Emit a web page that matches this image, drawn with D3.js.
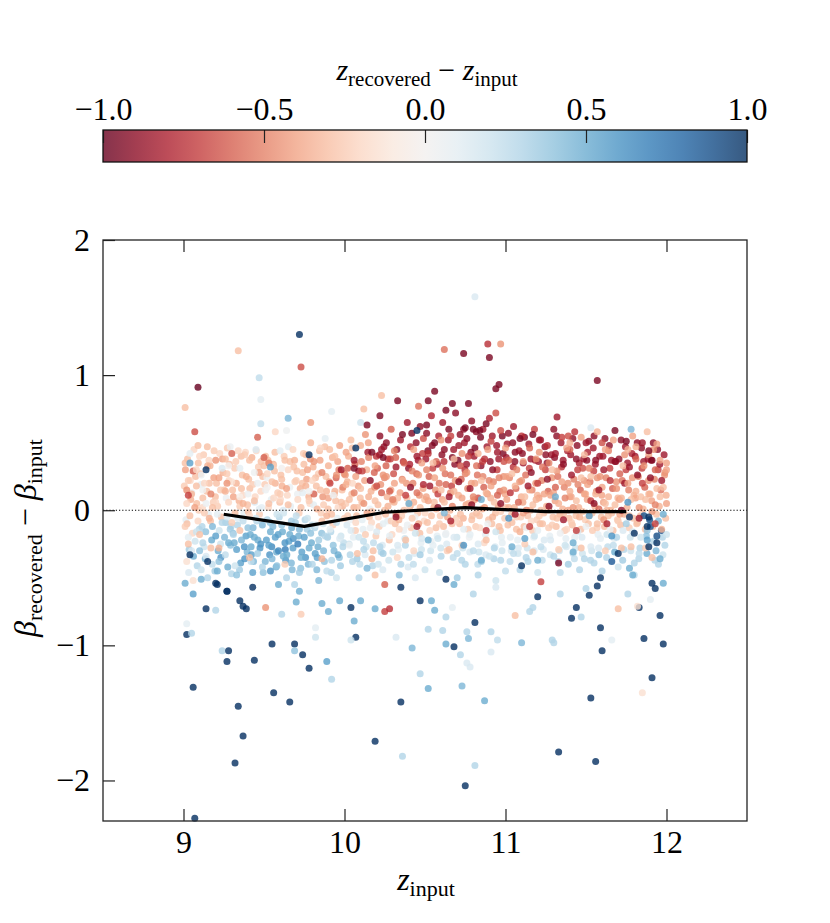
<!DOCTYPE html>
<html>
<head>
<meta charset="utf-8">
<script src="https://cdn.jsdelivr.net/npm/d3@7"></script>
<style>
  body { margin: 0; background: #fff; }
  text { font-family: "Liberation Serif", "DejaVu Serif", serif; }
</style>
</head>
<body>
<div id="chart"></div>
<script>
// ---- data: [z_input, beta_rec - beta_in, z_rec - z_in] ----
const coreLeft = [
  [9.01,0.35,-.3],[9.03,0.22,-.25],[9.05,0.12,-.35],[9.02,0.05,-.2],[9.04,-0.04,-.3],[9.01,-0.12,-.25],[9.03,-0.2,.1],[9.05,-0.3,.15],[9.02,-0.38,-.15],[9.06,0.29,-.6],
  [9.08,0.18,-.3],[9.07,0.02,-.4],[9.09,-0.08,-.2],[9.08,-0.16,.2],[9.1,0.4,-.2],[9.11,0.26,.05],[9.12,0.09,-.3],[9.13,-0.02,-.25],[9.12,-0.24,.3],[9.14,-0.34,.15],
  [9.11,-0.44,.2],[9.15,0.33,-.35],[9.16,0.2,-.3],[9.17,0.12,-.5],[9.16,-0.06,-.35],[9.18,-0.12,.45],[9.17,-0.28,-.3],[9.19,0.44,-.25],[9.2,0.06,-.2],[9.21,-0.03,.1],
  [9.2,-0.19,.55],[9.22,0.24,-.4],[9.23,0.15,-.25],[9.22,-0.38,.4],[9.24,0.31,.15],[9.24,-0.09,.3],[9.06,-0.52,-.15],[9.15,-0.5,.3],[9.09,0.48,-.3],[9.2,0.37,-.45],
  [9.04,0.42,.1],[9.13,0.2,-.2],[9.18,0.02,-.3],[9.03,-0.25,-.3],[9.23,-0.25,.2],[9.1,-0.3,.4],[9.02,0.15,-.45],[9.14,0.05,.05],[9.21,-0.45,.5],[9.08,0.3,-.2],
  [9.26,0.38,-.3],[9.27,0.27,-.25],[9.26,0.14,-.35],[9.28,0.06,-.2],[9.27,-0.05,.15],[9.29,-0.14,.35],[9.28,-0.24,.5],[9.26,-0.33,.25],[9.3,0.21,-.15],[9.31,0.1,-.4],
  [9.32,-0.02,-.3],[9.31,-0.18,.3],[9.33,-0.29,.55],[9.32,-0.41,.2],[9.34,0.44,-.2],[9.35,0.31,.1],[9.36,0.16,-.3],[9.35,0.03,-.25],[9.37,-0.08,.25],[9.36,-0.22,.45],
  [9.38,-0.36,.6],[9.39,0.25,-.35],[9.4,0.12,.05],[9.41,-0.04,-.2],[9.4,-0.13,.4],[9.42,-0.27,.5],[9.41,0.37,-.3],[9.43,0.19,-.25],[9.44,0.07,-.3],[9.45,-0.06,.2],
  [9.44,-0.2,.5],[9.46,-0.32,.35],[9.47,0.28,-.4],[9.48,0.14,-.2],[9.47,0.01,.1],[9.49,-0.11,.45],[9.48,-0.25,.6],[9.49,-0.42,.3],[9.29,0.47,.05],[9.38,0.41,-.25],
  [9.45,0.45,.15],[9.33,-0.48,.4],[9.43,-0.46,.55],[9.27,0.2,-.45],[9.37,0.05,-.35],[9.46,0.2,.05],[9.3,-0.09,-.25],[9.42,-0.38,.25],[9.5,0.33,-.3],[9.35,-0.15,-.3],
  [9.51,0.4,-.3],[9.52,0.27,-.2],[9.51,0.15,.05],[9.53,0.05,-.3],[9.52,-0.07,.3],[9.54,-0.16,.5],[9.53,-0.26,.55],[9.55,-0.36,.45],[9.54,-0.45,.6],[9.56,0.33,-.25],
  [9.57,0.2,-.35],[9.56,0.09,-.2],[9.58,-0.03,.2],[9.57,-0.2,.55],[9.59,-0.3,.65],[9.58,-0.41,.4],[9.6,0.44,.1],[9.61,0.23,-.3],[9.6,0.12,-.25],[9.62,0.0,.15],
  [9.61,-0.11,.4],[9.63,-0.24,.6],[9.62,-0.34,.5],[9.64,-0.5,.3],[9.65,0.3,-.2],[9.66,0.17,.05],[9.65,0.04,-.3],[9.67,-0.08,.35],[9.66,-0.18,.5],[9.68,-0.28,.55],
  [9.67,-0.39,.45],[9.69,0.37,-.35],[9.7,0.22,-.25],[9.71,0.08,-.2],[9.7,-0.04,.25],[9.72,-0.14,.45],[9.71,-0.25,.7],[9.73,-0.35,.5],[9.72,-0.46,.35],[9.74,0.28,-.3],
  [9.74,0.13,.1],[9.75,-0.2,.55],[9.53,0.35,-.5],[9.63,0.37,-.3],[9.68,0.45,-.2],[9.59,-0.55,.5],[9.69,-0.55,.3],[9.55,0.21,-.3],[9.64,0.16,-.4],[9.73,0.02,-.3],
  [9.76,0.41,-.3],[9.77,0.3,-.4],[9.76,0.18,-.35],[9.78,0.07,-.25],[9.77,-0.06,.2],[9.79,-0.17,.4],[9.78,-0.28,.5],[9.8,-0.4,.3],[9.81,0.36,-.45],[9.82,0.24,-.3],
  [9.81,0.12,-.6],[9.83,0.01,-.35],[9.82,-0.11,.15],[9.84,-0.22,.35],[9.83,-0.35,.55],[9.85,0.46,-.2],[9.86,0.28,-.5],[9.85,0.15,-.3],[9.87,0.04,-.25],[9.86,-0.08,-.3],
  [9.88,-0.19,.3],[9.87,-0.3,.45],[9.89,-0.45,.25],[9.9,0.33,-.35],[9.91,0.2,-.7],[9.9,0.09,-.4],[9.92,-0.03,-.3],[9.91,-0.14,.1],[9.93,-0.26,.4],[9.92,-0.37,.3],
  [9.94,0.4,-.3],[9.95,0.26,-.45],[9.94,0.14,-.35],[9.96,0.02,-.2],[9.95,-0.09,.25],[9.97,-0.21,.15],[9.96,-0.33,.5],[9.98,0.3,-.85],[9.99,0.17,-.5],[9.98,0.06,-.3],
  [10.0,-0.06,-.25],[9.99,-0.27,.3],[9.79,0.5,-.35],[9.88,0.53,.1],[9.97,0.48,-.4],[9.84,-0.52,.45],[9.95,-0.5,.2],[9.8,0.22,-.2],[9.93,0.11,.05],[9.89,-0.04,-.35]
];

const coreMid = [
  [10.01,0.43,-.4],[10.02,0.31,-.6],[10.01,0.19,-.35],[10.03,0.08,-.3],[10.02,-0.04,-.25],[10.04,-0.15,.15],[10.03,-0.26,.05],[10.05,-0.38,.3],[10.06,0.37,-.85],[10.07,0.25,-.4],
  [10.06,0.13,-.5],[10.08,0.02,-.3],[10.07,-0.09,-.2],[10.09,-0.2,.2],[10.08,-0.32,-.3],[10.1,0.48,-.35],[10.11,0.29,-.7],[10.1,0.16,-.3],[10.12,0.05,-.45],[10.11,-0.07,.1],
  [10.13,-0.18,-.25],[10.12,-0.29,.3],[10.14,-0.43,.45],[10.15,0.39,-.5],[10.16,0.22,-.9],[10.15,0.1,-.35],[10.17,-0.01,-.3],[10.16,-0.13,.05],[10.18,-0.24,.25],[10.17,-0.36,-.35],
  [10.19,0.33,-.4],[10.2,0.18,-.65],[10.19,0.07,-.3],[10.21,-0.05,-.2],[10.2,-0.16,.15],[10.22,-0.27,.3],[10.21,-0.4,.2],[10.23,0.45,-.85],[10.24,0.26,-.45],[10.23,0.13,-.6],
  [10.25,0.0,-.3],[10.24,-0.1,.1],[10.04,0.52,-.3],[10.13,0.56,-.45],[10.22,0.55,-.9],[10.09,-0.5,.3],[10.19,-0.48,-.3],[10.05,0.2,-.2],[10.14,-0.02,-.4],[10.24,-0.32,.35],
  [10.26,0.5,-.9],[10.27,0.38,-.7],[10.26,0.25,-.45],[10.28,0.14,-.6],[10.27,0.03,-.35],[10.29,-0.08,-.25],[10.28,-0.19,.1],[10.3,-0.31,.2],[10.31,0.44,-.5],[10.32,0.32,-.85],
  [10.31,0.2,-.4],[10.33,0.09,-.3],[10.32,-0.03,-.45],[10.34,-0.14,-.2],[10.33,-0.26,.15],[10.35,-0.4,.3],[10.36,0.56,-.95],[10.37,0.35,-.6],[10.36,0.22,-.35],[10.38,0.11,-.7],
  [10.37,0.0,-.3],[10.39,-0.11,.05],[10.38,-0.22,-.3],[10.4,-0.35,.25],[10.41,0.47,-.75],[10.42,0.29,-.5],[10.41,0.17,-.9],[10.43,0.06,-.35],[10.42,-0.06,-.25],[10.44,-0.17,.2],
  [10.43,-0.3,-.2],[10.45,0.4,-.85],[10.46,0.26,-.45],[10.45,0.13,-.55],[10.47,0.02,-.3],[10.46,-0.1,-.4],[10.48,-0.21,.15],[10.47,-0.33,.35],[10.49,0.53,-.65],[10.49,0.19,-.8],
  [10.5,-0.02,-.2],[10.5,-0.44,.2],[10.29,0.6,-.6],[10.39,0.65,-.85],[10.47,0.62,-.9],[10.34,-0.48,.4],[10.44,-0.5,.15],[10.3,0.08,-.5],[10.4,0.04,-.2],[10.48,0.35,-.4],
  [10.51,0.57,-.9],[10.52,0.42,-.75],[10.51,0.3,-.5],[10.53,0.18,-.85],[10.52,0.07,-.4],[10.54,-0.04,-.3],[10.53,-0.15,-.2],[10.55,-0.26,.1],[10.56,0.5,-.95],[10.57,0.36,-.6],
  [10.56,0.24,-.4],[10.58,0.12,-.7],[10.57,0.01,-.35],[10.59,-0.1,-.25],[10.58,-0.21,.2],[10.6,-0.34,.3],[10.61,0.65,-.85],[10.62,0.45,-.9],[10.61,0.31,-.45],[10.63,0.19,-.6],
  [10.62,0.06,-.3],[10.64,-0.05,-.4],[10.63,-0.17,.05],[10.65,-0.29,-.3],[10.66,0.55,-.7],[10.67,0.39,-.95],[10.66,0.26,-.55],[10.68,0.14,-.35],[10.67,0.03,-.5],[10.69,-0.08,-.2],
  [10.68,-0.2,.15],[10.7,-0.32,.25],[10.71,0.48,-.85],[10.72,0.33,-.65],[10.71,0.21,-.9],[10.73,0.09,-.4],[10.72,-0.03,-.3],[10.74,-0.14,.1],[10.73,-0.26,-.25],[10.74,0.6,-.9],
  [10.75,0.27,-.5],[10.75,-0.4,.3],[10.54,0.7,-.8],[10.69,0.72,-.9],[10.59,-0.46,.2],[10.7,-0.5,.35],[10.55,0.35,-.3],[10.65,0.1,-.85],[10.6,0.15,-.3],[10.73,0.42,-.45],
  [10.76,0.53,-.9],[10.77,0.4,-.7],[10.76,0.28,-.45],[10.78,0.16,-.85],[10.77,0.05,-.35],[10.79,-0.07,-.3],[10.78,-0.18,.1],[10.8,-0.3,.25],[10.81,0.46,-.95],[10.82,0.33,-.55],
  [10.81,0.2,-.4],[10.83,0.09,-.65],[10.82,-0.02,-.3],[10.84,-0.13,-.2],[10.83,-0.25,.15],[10.85,-0.38,.35],[10.86,0.6,-.85],[10.87,0.38,-.75],[10.86,0.25,-.5],[10.88,0.13,-.35],
  [10.87,0.02,-.45],[10.89,-0.1,.05],[10.88,-0.22,-.3],[10.9,-0.34,.2],[10.91,0.51,-.7],[10.92,0.3,-.9],[10.91,0.18,-.4],[10.93,0.06,-.3],[10.92,-0.05,-.35],[10.94,-0.16,.2],
  [10.93,-0.28,.3],[10.95,0.43,-.85],[10.96,0.24,-.5],[10.95,0.11,-.6],[10.97,-0.01,-.25],[10.96,-0.12,-.3],[10.98,-0.24,.1],[10.97,-0.37,.3],[10.99,0.36,-.65],[10.99,0.15,-.45],
  [11.0,0.02,-.3],[11.0,-0.45,.25],[10.79,0.66,-.9],[10.9,0.68,-.8],[10.83,-0.48,.3],[10.94,-0.52,.2],[10.8,0.1,-.5],[10.89,0.45,-.4],[10.98,0.55,-.95],[10.85,0.22,-.3]
];

const coreRight = [
  [11.01,0.49,-.85],[11.02,0.37,-.6],[11.01,0.25,-.4],[11.03,0.13,-.75],[11.02,0.02,-.35],[11.04,-0.09,-.3],[11.03,-0.2,.1],[11.05,-0.32,.25],[11.06,0.43,-.9],[11.07,0.3,-.5],
  [11.06,0.18,-.35],[11.08,0.06,-.6],[11.07,-0.05,-.25],[11.09,-0.16,-.35],[11.08,-0.28,.15],[11.1,0.55,-.75],[11.11,0.35,-.85],[11.1,0.22,-.45],[11.12,0.1,-.3],[11.11,-0.02,-.4],
  [11.13,-0.13,.05],[11.12,-0.25,-.25],[11.14,-0.38,.3],[11.15,0.46,-.6],[11.16,0.28,-.9],[11.15,0.15,-.4],[11.17,0.04,-.3],[11.16,-0.08,-.2],[11.18,-0.19,.2],[11.17,-0.31,-.3],
  [11.19,0.38,-.45],[11.2,0.2,-.7],[11.19,0.08,-.35],[11.21,-0.04,-.25],[11.2,-0.15,.1],[11.22,-0.27,.25],[11.21,0.52,-.85],[11.23,0.32,-.55],[11.24,0.12,-.4],[11.23,-0.1,-.3],
  [11.24,-0.22,.15],[11.25,0.41,-.9],[11.05,0.62,-.85],[11.18,0.6,-.7],[11.09,-0.44,.3],[11.2,-0.46,.2],[11.04,0.27,-.3],[11.13,0.0,-.5],[11.22,0.0,-.3],[11.14,0.18,-.85],
  [11.26,0.48,-.75],[11.27,0.35,-.5],[11.26,0.23,-.9],[11.28,0.11,-.4],[11.27,0.0,-.3],[11.29,-0.11,-.25],[11.28,-0.22,.15],[11.3,-0.34,.3],[11.31,0.42,-.85],[11.32,0.29,-.45],
  [11.31,0.17,-.6],[11.33,0.05,-.35],[11.32,-0.06,-.3],[11.34,-0.17,.05],[11.33,-0.29,-.25],[11.35,0.54,-.7],[11.36,0.34,-.9],[11.35,0.21,-.4],[11.37,0.09,-.5],[11.36,-0.03,-.3],
  [11.38,-0.14,-.2],[11.37,-0.26,.2],[11.39,-0.4,.35],[11.4,0.45,-.6],[11.41,0.26,-.85],[11.4,0.14,-.35],[11.42,0.02,-.45],[11.41,-0.09,-.25],[11.43,-0.2,.1],[11.42,-0.32,.25],
  [11.44,0.38,-.9],[11.45,0.19,-.5],[11.44,0.07,-.3],[11.46,-0.05,-.35],[11.45,-0.16,.15],[11.47,-0.28,-.3],[11.48,0.31,-.65],[11.49,0.12,-.4],[11.48,-0.01,-.3],[11.5,-0.12,.05],
  [11.49,-0.36,.3],[11.5,0.5,-.85],[11.3,0.6,-.9],[11.43,0.58,-.75],[11.34,-0.46,.25],[11.46,-0.44,.3],[11.29,0.3,-.3],[11.39,0.0,-.4],[11.47,0.24,-.3],[11.38,0.46,-.4],
  [11.51,0.43,-.8],[11.52,0.31,-.5],[11.51,0.19,-.4],[11.53,0.07,-.7],[11.52,-0.04,-.3],[11.54,-0.15,-.25],[11.53,-0.27,.15],[11.55,-0.39,.3],[11.56,0.37,-.9],[11.57,0.24,-.45],
  [11.56,0.12,-.35],[11.58,0.01,-.6],[11.57,-0.1,-.3],[11.59,-0.21,.1],[11.58,-0.33,.4],[11.6,0.5,-.65],[11.61,0.3,-.85],[11.6,0.17,-.4],[11.62,0.05,-.3],[11.61,-0.07,-.45],
  [11.63,-0.18,.2],[11.62,-0.3,-.25],[11.64,0.44,-.5],[11.65,0.22,-.75],[11.64,0.1,-.35],[11.66,-0.02,-.3],[11.65,-0.14,.05],[11.67,-0.26,.25],[11.66,-0.38,.85],[11.68,0.36,-.9],
  [11.69,0.16,-.45],[11.68,0.04,-.3],[11.7,-0.08,-.25],[11.69,-0.2,.3],[11.71,0.27,-.6],[11.72,0.09,-.35],[11.71,-0.03,-.4],[11.73,-0.15,.15],[11.72,-0.28,-.3],[11.74,0.41,-.45],
  [11.74,0.2,-.85],[11.75,-0.1,.35],[11.55,0.55,-.9],[11.67,0.52,-.4],[11.6,-0.45,.3],[11.7,-0.42,.2],[11.53,0.25,-.3],[11.63,0.0,-.35],[11.73,0.33,-.3],[11.58,0.15,-.85],
  [11.76,0.45,-.35],[11.77,0.32,-.85],[11.76,0.2,-.4],[11.78,0.08,-.3],[11.77,-0.04,-.25],[11.79,-0.16,.15],[11.78,-0.27,-.3],[11.8,-0.39,.3],[11.81,0.38,-.6],[11.82,0.26,-.9],
  [11.81,0.14,-.35],[11.83,0.02,-.45],[11.82,-0.09,-.3],[11.84,-0.2,.2],[11.83,-0.32,.25],[11.85,0.5,-.85],[11.86,0.33,-.45],[11.85,0.2,-.7],[11.87,0.08,-.3],[11.86,-0.04,.9],
  [11.88,-0.15,.4],[11.87,-0.28,-.25],[11.89,0.41,-.4],[11.9,0.24,-.9],[11.89,0.12,-.35],[11.91,-0.01,-.45],[11.9,-0.12,.85],[11.92,-0.23,.3],[11.91,-0.35,-.3],[11.93,0.3,-.6],
  [11.94,0.16,-.3],[11.93,0.04,-.5],[11.95,-0.08,.45],[11.94,-0.19,.9],[11.96,0.37,-.4],[11.97,0.22,-.85],[11.96,0.1,-.3],[11.98,-0.03,.5],[11.97,-0.14,-.35],[11.99,-0.26,.3],
  [11.99,0.28,-.45],[12.0,0.05,-.4],[12.0,-0.18,.2],[11.79,0.55,-.4],[11.88,0.58,-.3],[11.95,-0.4,.3],[11.8,-0.48,.25],[11.84,0.1,-.3],[11.92,0.45,-.45],[11.98,0.17,-.3]
];

const fillLeft = [
  [9.005,0.18,-.25],[9.015,-0.07,.1],[9.025,0.38,-.3],[9.035,-0.29,.35],[9.045,0.08,-.35],[9.055,-0.17,-.2],[9.065,0.45,-.2],[9.075,0.25,-.3],[9.085,-0.41,.3],[9.095,0.0,-.25],
  [9.012,0.3,-.4],[9.032,-0.46,.15],[9.052,0.13,.05],[9.072,-0.23,.2],[9.092,0.35,-.3],[9.022,-0.1,-.3],[9.042,0.22,-.2],[9.062,-0.34,.5],[9.082,0.05,-.3],[9.098,-0.14,.3],
  [9.105,0.27,-.3],[9.115,-0.12,.3],[9.125,0.41,-.25],[9.135,-0.36,.45],[9.145,0.14,-.3],[9.155,-0.03,.1],[9.165,0.33,-.35],[9.175,-0.22,.5],[9.185,0.06,-.25],[9.195,-0.45,.35],
  [9.108,0.19,.1],[9.128,-0.27,.2],[9.148,0.47,-.3],[9.168,-0.08,-.3],[9.188,0.24,-.4],[9.118,0.02,-.2],[9.138,-0.16,.4],[9.158,0.37,-.2],[9.178,-0.4,.25],[9.198,0.1,-.3],
  [9.205,0.2,-.3],[9.215,-0.3,.5],[9.225,0.42,-.2],[9.235,-0.05,-.3],[9.245,0.28,-.35],[9.255,-0.2,.45],[9.265,0.09,.05],[9.275,-0.42,.5],[9.285,0.34,-.3],[9.295,-0.12,.3],
  [9.212,0.03,-.25],[9.232,-0.35,.6],[9.252,0.15,-.3],[9.272,0.46,-.25],[9.292,-0.26,.4],[9.222,-0.15,.2],[9.242,0.38,-.4],[9.262,-0.09,.35],[9.282,0.22,-.2],[9.298,-0.47,.3],
  [9.305,0.15,-.3],[9.315,-0.24,.5],[9.325,0.36,-.25],[9.335,-0.11,.3],[9.345,0.07,-.35],[9.355,-0.39,.55],[9.365,0.26,-.3],[9.375,-0.02,.1],[9.385,0.43,-.2],[9.395,-0.31,.45],
  [9.308,-0.17,.4],[9.328,0.2,-.35],[9.348,-0.44,.35],[9.368,0.11,-.2],[9.388,-0.19,.55],[9.318,0.31,-.25],[9.338,-0.06,.15],[9.358,0.4,-.3],[9.378,-0.27,.6],[9.398,0.04,-.3],
  [9.405,0.23,-.3],[9.415,-0.18,.5],[9.425,0.39,-.35],[9.435,-0.38,.45],[9.445,0.1,-.2],[9.455,-0.08,.3],[9.465,0.32,-.25],[9.475,-0.28,.6],[9.485,0.02,.1],[9.495,-0.46,.4],
  [9.412,0.16,-.3],[9.432,-0.13,.45],[9.452,0.44,-.2],[9.472,-0.03,-.25],[9.492,0.25,-.3],[9.422,-0.33,.55],[9.442,0.06,.15],[9.462,-0.22,.5],[9.482,0.36,-.3],[9.402,-0.01,-.3],
  [9.505,0.19,-.25],[9.515,-0.22,.55],[9.525,0.37,-.3],[9.535,-0.33,.6],[9.545,0.08,.1],[9.555,-0.12,.45],[9.565,0.29,-.3],[9.575,-0.42,.5],[9.585,0.13,-.25],[9.595,-0.05,.3],
  [9.508,-0.38,.45],[9.528,0.02,-.2],[9.548,-0.27,.65],[9.568,0.43,-.3],[9.588,-0.18,.55],[9.518,0.24,.05],[9.538,-0.09,.4],[9.558,0.34,-.35],[9.578,-0.31,.5],[9.598,0.06,-.3],
  [9.605,0.26,-.3],[9.615,-0.16,.5],[9.625,0.4,-.25],[9.635,-0.37,.6],[9.645,0.11,-.2],[9.655,-0.23,.55],[9.665,0.03,.1],[9.675,-0.44,.45],[9.685,0.32,-.3],[9.695,-0.09,.35],
  [9.612,0.18,-.35],[9.632,-0.29,.7],[9.652,0.47,.1],[9.672,-0.13,.5],[9.692,0.21,-.25],[9.622,-0.02,.2],[9.642,-0.33,.5],[9.662,0.36,-.3],[9.682,-0.21,.6],[9.602,0.08,-.2],
  [9.705,0.29,-.3],[9.715,-0.19,.5],[9.725,0.16,-.35],[9.735,-0.31,.55],[9.745,0.42,-.25],[9.755,-0.07,.3],[9.765,0.23,-.4],[9.775,-0.4,.45],[9.785,0.05,-.2],[9.795,-0.24,.5],
  [9.708,0.12,.05],[9.728,-0.43,.4],[9.748,0.34,-.3],[9.768,-0.14,.35],[9.788,0.38,-.45],[9.718,-0.02,-.25],[9.738,0.2,-.3],[9.758,-0.35,.6],[9.778,0.1,-.35],[9.798,-0.11,.25],
  [9.805,0.32,-.35],[9.815,-0.13,.3],[9.825,0.18,-.3],[9.835,-0.27,.5],[9.845,0.44,-.3],[9.855,-0.02,-.25],[9.865,0.1,-.45],[9.875,-0.38,.4],[9.885,0.25,-.3],[9.895,-0.2,.35],
  [9.808,0.04,.1],[9.828,-0.44,.45],[9.848,0.37,-.4],[9.868,-0.1,.2],[9.888,0.14,-.35],[9.818,-0.32,.55],[9.838,0.27,-.25],[9.858,-0.17,.4],[9.878,0.47,-.3],[9.898,0.01,-.3],
  [9.905,0.21,-.4],[9.915,-0.16,.3],[9.925,0.39,-.35],[9.935,-0.3,.45],[9.945,0.07,-.3],[9.955,-0.06,.1],[9.965,0.3,-.5],[9.975,-0.41,.35],[9.985,0.15,-.3],[9.995,-0.24,.25],
  [9.908,0.45,-.3],[9.928,-0.11,-.25],[9.948,0.24,-.6],[9.968,-0.35,.4],[9.988,0.03,-.35],[9.918,-0.46,.3],[9.938,0.12,-.25],[9.958,0.36,-.4],[9.978,-0.19,.2],[9.998,0.27,-.45],
  [10.005,0.26,-.45],[10.015,-0.11,.15],[10.025,0.4,-.35],[10.035,-0.33,.3],[10.045,0.12,-.3],[10.055,-0.2,.1],[10.065,0.34,-.6],[10.075,-0.04,-.3],[10.085,0.18,-.4],[10.095,-0.4,.25],
  [10.008,0.05,-.25],[10.028,-0.25,.2],[10.048,0.46,-.3],[10.068,-0.15,-.25],[10.088,0.29,-.85],[10.018,0.21,-.35],[10.038,-0.07,.05],[10.058,0.02,-.35],[10.078,-0.36,.35],[10.098,0.09,-.3],
  [10.105,0.36,-.5],[10.115,-0.14,.1],[10.125,0.22,-.4],[10.135,-0.27,.2],[10.145,0.43,-.85],[10.155,-0.05,-.3],[10.165,0.14,-.35],[10.175,-0.41,.3],[10.185,0.28,-.6],[10.195,-0.19,-.25],
  [10.108,0.06,-.3],[10.128,-0.33,.15],[10.148,0.5,-.4],[10.168,-0.09,-.2],[10.188,0.17,-.45],[10.118,-0.23,.25],[10.138,0.3,-.35],[10.158,0.01,.05],[10.178,-0.3,-.3],[10.198,0.4,-.75],
  [10.205,0.31,-.6],[10.215,-0.12,-.25],[10.225,0.19,-.45],[10.235,-0.26,.15],[10.245,0.47,-.9],[10.255,-0.03,-.3],[10.265,0.1,-.35],[10.275,-0.37,.2],[10.285,0.38,-.7],[10.295,-0.18,-.2],
  [10.208,0.04,-.3],[10.228,-0.31,.3],[10.248,0.24,-.5],[10.268,-0.08,.1],[10.288,0.15,-.4],[10.218,0.41,-.85],[10.238,-0.44,.15],[10.258,0.33,-.6],[10.278,-0.22,-.3],[10.298,0.07,-.35],
  [10.305,0.27,-.65],[10.315,-0.1,-.3],[10.325,0.45,-.9],[10.335,-0.29,.1],[10.345,0.13,-.4],[10.355,-0.04,-.25],[10.365,0.36,-.75],[10.375,-0.21,.2],[10.385,0.2,-.45],[10.395,-0.42,.15],
  [10.308,0.06,-.35],[10.328,-0.35,-.2],[10.348,0.52,-.85],[10.368,-0.15,.05],[10.388,0.09,-.3],[10.318,0.39,-.6],[10.338,-0.07,-.35],[10.358,0.23,-.5],[10.378,-0.26,.3],[10.398,0.31,-.9],
  [10.405,0.34,-.8],[10.415,-0.13,-.25],[10.425,0.2,-.5],[10.435,-0.32,.15],[10.445,0.5,-.9],[10.455,-0.02,-.3],[10.465,0.11,-.45],[10.475,-0.24,.1],[10.485,0.42,-.7],[10.495,-0.08,-.2],
  [10.408,0.03,-.35],[10.428,-0.4,.25],[10.448,0.27,-.6],[10.468,-0.17,-.3],[10.488,0.16,-.4],[10.418,0.57,-.95],[10.438,-0.05,.05],[10.458,0.37,-.85],[10.478,-0.29,.2],[10.498,0.08,-.3]
];

const fillRight = [
  [10.505,0.38,-.85],[10.515,-0.09,-.3],[10.525,0.25,-.6],[10.535,-0.3,.2],[10.545,0.48,-.9],[10.555,0.02,-.35],[10.565,0.15,-.45],[10.575,-0.19,.1],[10.585,0.55,-.8],[10.595,-0.04,-.25],
  [10.508,0.1,-.4],[10.528,-0.37,.15],[10.548,0.31,-.7],[10.568,-0.13,-.3],[10.588,0.2,-.55],[10.518,0.44,-.95],[10.538,-0.23,.05],[10.558,0.06,-.3],[10.578,0.34,-.85],[10.598,-0.28,.2],
  [10.605,0.41,-.9],[10.615,-0.12,-.3],[10.625,0.27,-.55],[10.635,-0.25,.15],[10.645,0.52,-.85],[10.655,0.0,-.35],[10.665,0.18,-.7],[10.675,-0.35,.25],[10.685,0.34,-.9],[10.695,-0.06,-.25],
  [10.608,0.08,-.4],[10.628,-0.18,.1],[10.648,0.6,-.95],[10.668,-0.1,-.3],[10.688,0.22,-.45],[10.618,0.36,-.75],[10.638,-0.3,-.25],[10.658,0.13,-.5],[10.678,0.45,-.85],[10.698,-0.2,.2],
  [10.705,0.37,-.95],[10.715,-0.1,-.3],[10.725,0.23,-.6],[10.735,-0.28,.2],[10.745,0.5,-.85],[10.755,0.04,-.4],[10.765,0.16,-.5],[10.775,-0.2,.05],[10.785,0.43,-.9],[10.795,-0.04,-.3],
  [10.708,0.11,-.35],[10.728,-0.37,.3],[10.748,0.3,-.75],[10.768,-0.14,-.25],[10.788,0.2,-.4],[10.718,0.56,-.9],[10.738,-0.06,-.35],[10.758,0.34,-.85],[10.778,-0.31,.15],[10.798,0.07,-.3],
  [10.805,0.4,-.85],[10.815,-0.12,-.25],[10.825,0.26,-.55],[10.835,-0.31,.2],[10.845,0.54,-.95],[10.855,0.01,-.35],[10.865,0.17,-.6],[10.875,-0.18,.1],[10.885,0.47,-.85],[10.895,-0.07,-.3],
  [10.808,0.08,-.4],[10.828,-0.4,.25],[10.848,0.33,-.9],[10.868,-0.24,-.2],[10.888,0.12,-.45],[10.818,0.58,-.9],[10.838,-0.04,-.3],[10.858,0.36,-.7],[10.878,-0.33,.15],[10.898,0.22,-.5],
  [10.905,0.36,-.9],[10.915,-0.1,-.3],[10.925,0.21,-.5],[10.935,-0.27,.15],[10.945,0.48,-.85],[10.955,0.03,-.4],[10.965,0.14,-.55],[10.975,-0.2,.1],[10.985,0.42,-.95],[10.995,-0.06,-.25],
  [10.908,0.09,-.35],[10.928,-0.36,.3],[10.948,0.3,-.7],[10.968,-0.15,-.3],[10.988,0.25,-.45],[10.918,0.55,-.85],[10.938,-0.02,-.3],[10.958,0.38,-.85],[10.978,-0.3,.2],[10.998,0.12,-.4],
  [11.005,0.39,-.85],[11.015,-0.11,-.3],[11.025,0.24,-.5],[11.035,-0.3,.15],[11.045,0.5,-.9],[11.055,0.02,-.35],[11.065,0.16,-.6],[11.075,-0.22,.1],[11.085,0.44,-.85],[11.095,-0.05,-.25],
  [11.008,0.08,-.4],[11.028,-0.38,.25],[11.048,0.32,-.75],[11.068,-0.14,-.3],[11.088,0.21,-.45],[11.018,0.57,-.9],[11.038,-0.03,-.3],[11.058,0.36,-.9],[11.078,-0.32,.2],[11.098,0.1,-.35],
  [11.105,0.42,-.9],[11.115,-0.12,-.3],[11.125,0.26,-.55],[11.135,-0.28,.2],[11.145,0.49,-.85],[11.155,0.0,-.35],[11.165,0.15,-.5],[11.175,-0.2,.1],[11.185,0.37,-.8],[11.195,-0.07,-.25],
  [11.108,0.06,-.4],[11.128,-0.35,.3],[11.148,0.31,-.7],[11.168,-0.15,-.25],[11.188,0.2,-.45],[11.118,0.54,-.95],[11.138,-0.04,-.3],[11.158,0.38,-.85],[11.178,-0.3,.15],[11.198,0.11,-.35],
  [11.205,0.36,-.85],[11.215,-0.1,-.3],[11.225,0.22,-.5],[11.235,-0.29,.15],[11.245,0.47,-.9],[11.255,0.03,-.35],[11.265,0.14,-.6],[11.275,-0.19,.1],[11.285,0.41,-.85],[11.295,-0.05,-.3],
  [11.208,0.09,-.4],[11.228,-0.37,.25],[11.248,0.3,-.7],[11.268,-0.13,-.25],[11.288,0.24,-.45],[11.218,0.52,-.85],[11.238,-0.02,-.3],[11.258,0.35,-.9],[11.278,-0.33,.2],[11.298,0.13,-.4],
  [11.305,0.39,-.9],[11.315,-0.12,-.3],[11.325,0.25,-.55],[11.335,-0.3,.2],[11.345,0.5,-.85],[11.355,0.01,-.35],[11.365,0.17,-.5],[11.375,-0.21,.1],[11.385,0.44,-.8],[11.395,-0.06,-.3],
  [11.308,0.07,-.4],[11.328,-0.38,.3],[11.348,0.32,-.75],[11.368,-0.15,-.25],[11.388,0.2,-.45],[11.318,0.55,-.9],[11.338,-0.03,-.35],[11.358,0.37,-.85],[11.378,-0.27,.15],[11.398,0.1,-.35],
  [11.405,0.41,-.85],[11.415,-0.11,-.3],[11.425,0.23,-.5],[11.435,-0.28,.2],[11.445,0.48,-.9],[11.455,0.02,-.35],[11.465,0.15,-.6],[11.475,-0.2,.15],[11.485,0.38,-.85],[11.495,-0.07,-.25],
  [11.408,0.1,-.4],[11.428,-0.36,.25],[11.448,0.3,-.7],[11.468,-0.14,-.3],[11.488,0.22,-.45],[11.418,0.53,-.9],[11.438,-0.04,-.3],[11.458,0.35,-.8],[11.478,-0.32,.2],[11.498,0.12,-.35],
  [11.505,0.37,-.9],[11.515,-0.1,-.3],[11.525,0.21,-.55],[11.535,-0.3,.2],[11.545,0.46,-.85],[11.555,0.03,-.35],[11.565,0.14,-.5],[11.575,-0.18,.1],[11.585,0.4,-.85],[11.595,-0.05,-.3],
  [11.508,0.08,-.4],[11.528,-0.37,.3],[11.548,0.29,-.7],[11.568,-0.13,-.25],[11.588,0.25,-.45],[11.518,0.51,-.9],[11.538,-0.02,-.3],[11.558,0.34,-.85],[11.578,-0.28,.15],[11.598,0.11,-.4],
  [11.605,0.4,-.85],[11.615,-0.12,-.3],[11.625,0.24,-.5],[11.635,-0.27,.25],[11.645,0.48,-.9],[11.655,0.0,-.35],[11.665,0.16,-.6],[11.675,-0.21,.1],[11.685,0.36,-.85],[11.695,-0.07,-.25],
  [11.608,0.06,-.4],[11.628,-0.35,.3],[11.648,0.31,-.7],[11.668,-0.15,-.3],[11.688,0.21,-.45],[11.618,0.53,-.9],[11.638,-0.04,-.3],[11.658,0.37,-.85],[11.678,-0.31,.5],[11.698,0.09,-.35],
  [11.705,0.38,-.9],[11.715,-0.11,-.3],[11.725,0.22,-.55],[11.735,-0.29,.3],[11.745,0.47,-.85],[11.755,0.02,-.35],[11.765,0.15,-.5],[11.775,-0.2,.2],[11.785,0.42,-.8],[11.795,-0.06,-.3],
  [11.708,0.08,-.4],[11.728,-0.37,.35],[11.748,0.3,-.7],[11.768,-0.13,-.25],[11.788,0.24,-.45],[11.718,0.52,-.9],[11.738,-0.03,-.35],[11.758,0.35,-.85],[11.778,-0.3,.2],[11.798,0.11,-.35],
  [11.805,0.4,-.85],[11.815,-0.1,-.3],[11.825,0.25,-.5],[11.835,-0.28,.3],[11.845,0.46,-.9],[11.855,0.01,-.35],[11.865,0.17,-.6],[11.875,-0.19,.4],[11.885,0.38,-.85],[11.895,-0.07,.9],
  [11.808,0.09,-.4],[11.828,-0.36,.3],[11.848,0.31,-.7],[11.868,-0.14,-.3],[11.888,0.22,-.45],[11.818,0.5,-.9],[11.838,-0.04,-.3],[11.858,0.36,-.85],[11.878,-0.32,.5],[11.898,0.12,-.35],
  [11.905,0.37,-.85],[11.915,-0.12,-.3],[11.925,0.23,-.5],[11.935,-0.3,.45],[11.945,0.45,-.9],[11.955,0.03,-.35],[11.965,0.15,-.55],[11.975,-0.2,.3],[11.985,0.41,-.85],[11.995,-0.06,-.3],
  [11.908,0.07,-.4],[11.928,-0.37,.3],[11.948,0.3,-.7],[11.968,-0.15,.9],[11.988,0.26,-.45],[11.918,0.5,-.9],[11.938,-0.03,-.3],[11.958,0.34,-.85],[11.978,-0.33,.2],[11.998,0.11,-.35]
];

// scattered mixing points in the cloud (drawn on top)
const mixPoints = [
  [10.32,-0.05,-.9],[10.45,-0.12,-.85],[10.58,0.02,-.95],[10.66,-0.08,-.8],[10.79,0.04,-.9],[10.88,-0.15,-.75],[10.97,0.05,-.9],[11.06,-0.03,-.85],[11.15,-0.12,-.7],
  [11.27,0.03,-.9],[11.36,-0.07,-.85],[11.44,-0.15,-.7],[11.55,0.05,-.9],[11.63,-0.1,-.8],[11.72,0.0,-.9],[11.83,-0.06,-.85],[11.93,-0.1,-.7],
  [10.4,0.05,.5],[10.62,-0.02,.45],[10.85,0.08,.5],[11.02,-0.06,.6],[11.31,0.1,.5],[11.52,-0.04,.55],[11.76,0.06,.6],[10.52,-0.22,.5],[10.74,-0.26,.6],
  [11.12,-0.21,.55],[11.42,-0.24,.5],[11.66,-0.19,.6],[11.88,-0.22,.55],
  [10.43,0.45,-.4],[10.6,0.52,-.45],[10.83,0.42,-.35],[11.0,0.46,-.4],[11.21,0.43,-.45],[11.4,0.5,-.35],[11.62,0.45,-.4],[11.81,0.47,-.35],[10.68,0.38,-.3],
  [11.11,0.36,-.4],[11.49,0.41,-.3],
  [9.12,0.15,.02],[9.28,0.33,.0],[9.44,0.28,.03],[9.61,0.31,.0],[9.78,0.14,.02],[9.35,0.1,-.05],[9.52,0.17,.0],
  [9.22,-0.28,-.35],[9.41,-0.35,-.3],[9.63,-0.4,-.25],[9.86,-0.36,-.35],[9.1,-0.18,-.3]
];

const upperPoints = [
  [9.01,0.76,-.3],[9.09,0.91,-1],[9.07,0.58,-.65],[9.34,1.18,-.3],[9.47,0.98,.25],[9.48,0.82,.1],[9.48,0.64,.25],[9.65,0.68,.45],[9.72,1.3,1],[9.73,1.06,-.65],
  [9.79,0.65,-.45],[9.92,0.73,.1],[10.12,0.75,-.3],[10.1,0.65,.2],[10.14,0.63,-.95],[10.22,0.7,-.95],[10.23,0.85,-.3],[9.46,0.54,-.6],[9.57,0.58,-.2],[9.64,0.59,.02],
  [10.81,1.58,.15],[10.62,1.19,-.55],[10.74,1.16,-.95],[10.89,1.23,-.75],[10.97,1.23,-.45],[10.9,1.13,-.95],[11.57,0.96,-.95],[10.96,0.93,-.95],[10.94,0.9,-.95],[10.56,0.88,-.95],
  [10.33,0.81,-.95],[10.52,0.81,-.95],[10.46,0.77,-.55],[10.67,0.79,-.95],[10.77,0.79,-.95],[10.63,0.74,-.95],[10.94,0.72,-.65],[11.32,0.69,-.85],[10.45,0.59,1],[10.51,0.63,-.95],
  [11.53,0.61,.15],[11.57,0.58,-.35],[11.68,0.59,-.95],[11.78,0.6,.45],[11.75,0.51,-.95],[11.39,0.55,-.65],[11.47,0.54,-.4],[11.94,0.49,-.4],[11.17,0.56,-.95],[11.09,0.53,-.95],
  [10.97,0.59,-.65],[10.75,0.61,-.95],[10.8,0.6,-.95],[10.84,0.59,-.95],[10.88,0.64,-.95],[11.89,0.44,-.95],[11.91,0.37,-.95],[12.0,0.35,-.4],[12.0,0.3,-.4],[9.14,0.3,1],
  [9.04,0.35,.55],[9.54,0.32,.55],[9.78,0.41,1],[10.07,0.46,1],[10.17,0.43,-.95],[10.24,0.39,-.95],[10.06,0.31,-.95],[9.03,0.11,-.7],[9.3,0.42,-.6],[9.5,0.39,-.6]
];

const lowerPoints = [
  [9.02,-0.92,1],[9.05,-0.91,.3],[9.06,-1.31,1],[9.24,-1.04,.3],[9.28,-1.04,1],[9.27,-1.12,1],[9.34,-1.45,1],[9.37,-1.67,1],[9.32,-1.87,1],[9.44,-1.11,1],
  [9.55,-0.99,1],[9.56,-1.35,1],[9.66,-1.42,1],[9.69,-0.99,1],[9.69,-1.04,.4],[9.74,-1.07,1],[9.78,-1.17,1],[9.89,-1.12,.55],[9.92,-1.25,.3],[9.82,-0.94,.2],
  [9.82,-0.87,.1],[10.07,-0.94,1],[10.04,-0.96,.2],[10.06,-0.82,.5],[10.19,-1.71,1],[10.36,-1.82,.3],[10.35,-1.42,1],[10.42,-1.02,.45],[10.32,-0.94,.15],[10.47,-1.21,.3],
  [10.52,-1.32,.5],[9.07,-2.28,1],[9.02,-0.84,.1],[9.01,-0.54,.5],[9.06,-0.62,.55],[9.11,-0.51,.5],[9.14,-0.73,1],[9.2,-0.74,.3],[9.21,-0.55,1],[9.27,-0.6,1],
  [9.35,-0.67,1],[9.37,-0.71,1],[9.39,-0.73,1],[9.43,-0.57,1],[9.51,-0.72,-.45],[9.61,-0.77,.3],[9.7,-0.68,.5],[9.73,-0.77,-.25],[9.86,-0.69,.5],[9.9,-0.75,.5],
  [9.97,-0.67,.5],[10.04,-0.72,1],[10.1,-0.67,.5],[10.19,-0.73,.5],[10.25,-0.75,-.7],[10.28,-0.73,-.75],[10.35,-0.57,1],[10.25,-0.55,-.6],[9.04,-0.33,1],[9.15,-0.38,1],
  [10.75,-2.04,1],[10.81,-1.89,.3],[10.87,-1.41,.5],[10.73,-1.3,.45],[10.78,-1.16,.15],[10.76,-1.13,.15],[10.72,-1.07,.3],[10.68,-1.01,1],[10.63,-0.99,.5],[10.77,-0.95,.45],
  [10.76,-0.9,.3],[10.81,-0.83,1],[10.91,-0.9,.3],[10.91,-1.05,.15],[10.95,-0.96,.25],[11.1,-0.98,.45],[11.29,-0.96,.3],[11.3,-0.98,.3],[11.33,-1.79,1],[11.56,-1.86,1],
  [11.53,-1.39,1],[11.6,-1.04,1],[11.59,-0.87,1],[11.66,-0.96,.1],[11.85,-1.35,-.15],[11.91,-1.24,1],[11.86,-0.95,1],[11.98,-0.99,1],[11.96,-0.78,1],[11.83,-0.72,1],
  [11.7,-0.73,-.3],[11.82,-0.71,-.15],[11.41,-0.8,1],[11.44,-0.72,1],[11.47,-0.79,.3],[11.2,-0.64,1],[11.17,-0.72,.3],[11.15,-0.75,.3],[11.06,-0.78,-.3],[10.94,-0.57,.15],
  [10.8,-0.62,.3],[10.67,-0.72,.1],[10.63,-0.79,.3],[10.56,-0.74,.5],[10.54,-0.67,.5],[10.52,-0.88,.3],[10.61,-0.89,.3],[10.47,-0.67,1],[10.63,-0.51,1],[10.68,-0.55,.5],
  [10.85,-0.37,.5],[11.22,-0.53,-.7],[11.34,-0.62,.3],[11.5,-0.58,.3],[11.57,-0.56,1],[11.59,-0.5,1],[11.52,-0.63,1],[11.77,-0.43,.5],[11.79,-0.48,.5],[11.91,-0.54,1],
  [11.93,-0.58,1],[11.98,-0.54,.5],[11.76,-0.62,.3],[11.9,-0.66,.1],[11.7,-0.32,1],[11.33,-0.39,-.95],[11.42,-0.31,.5],[11.2,-0.37,.5],[11.1,-0.41,1],[11.04,-0.27,.5],
  [11.77,-0.05,1],[11.89,-0.05,1],[11.88,-0.12,1],[11.8,-0.17,1],[11.89,-0.27,1],[11.94,-0.24,1],[11.96,-0.36,.5],[9.2,-0.54,1],[9.27,-0.6,1],[9.72,-0.6,.5]
];

// running median
const meanX = [9.25, 9.75, 10.25, 10.75, 11.25, 11.75];
const meanY = [-0.03, -0.12, -0.015, 0.02, -0.01, -0.01];

const xTicks = [9, 10, 11, 12];
const yTicks = [-2, -1, 0, 1, 2];
const cbarTicks = [-1, -0.5, 0, 0.5, 1];

// dimensions
const W = 830, H = 923;
const plot = { left: 103, right: 747, top: 240, bottom: 821 };
const cbar = { left: 103, right: 747, top: 130, bottom: 162 };

const svg = d3.select("#chart").append("svg")
    .attr("width", W)
    .attr("height", H);

const minus = s => String(s).replace("-", "\u2212");

// scales
const x = d3.scaleLinear().domain([8.5, 12.5]).range([plot.left, plot.right]);
const y = d3.scaleLinear().domain([-2.3, 2]).range([plot.bottom, plot.top]);
const color = d3.scaleSequential(d3.interpolateRdBu).domain([-1, 1]).clamp(true);

// scatter
const allPoints = fillLeft.concat(coreLeft, fillRight, coreMid, coreRight, mixPoints, upperPoints, lowerPoints);
svg.append("g")
    .selectAll("circle")
    .data(allPoints)
    .join("circle")
        .attr("cx", d => x(d[0]))
        .attr("cy", d => y(d[1]))
        .attr("r", 3.5)
        .attr("fill", d => color(d[2]))
        .attr("fill-opacity", 0.8);

// zero line
svg.append("line")
    .attr("x1", plot.left).attr("x2", plot.right)
    .attr("y1", y(0)).attr("y2", y(0))
    .attr("stroke", "#000")
    .attr("stroke-width", 1.1)
    .attr("stroke-dasharray", "1.2,2");

// median line
svg.append("path")
    .datum(d3.zip(meanX, meanY))
    .attr("fill", "none")
    .attr("stroke", "#000")
    .attr("stroke-width", 3.2)
    .attr("stroke-linejoin", "round")
    .attr("d", d3.line().x(d => x(d[0])).y(d => y(d[1])));

// axes
const fontSize = 32;
const styleAxis = g => {
    g.select(".domain").remove();
    g.selectAll(".tick line").attr("stroke", "#222").attr("stroke-width", 1.2);
    g.selectAll(".tick text")
        .attr("font-family", "'Liberation Serif', serif")
        .attr("font-size", fontSize)
        .attr("fill", "#000");
};

svg.append("g")
    .attr("transform", `translate(0,${plot.bottom})`)
    .call(d3.axisBottom(x).tickValues(xTicks).tickSize(-12).tickPadding(9).tickFormat(d3.format("d")))
    .call(styleAxis);

svg.append("g")
    .attr("transform", `translate(0,${plot.top})`)
    .call(d3.axisTop(x).tickValues(xTicks).tickSize(-12).tickFormat(""))
    .call(styleAxis);

svg.append("g")
    .attr("transform", `translate(${plot.left},0)`)
    .call(d3.axisLeft(y).tickValues(yTicks).tickSize(-12).tickPadding(13).tickFormat(d => minus(d)))
    .call(styleAxis);

svg.append("rect")
    .attr("x", plot.left).attr("y", plot.top)
    .attr("width", plot.right - plot.left).attr("height", plot.bottom - plot.top)
    .attr("fill", "none").attr("stroke", "#222").attr("stroke-width", 1.3);

// axis labels
const xLabel = svg.append("text")
    .attr("x", 426).attr("y", 890)
    .attr("text-anchor", "middle")
    .attr("font-size", 32);
xLabel.append("tspan").attr("font-style", "italic").text("z");
xLabel.append("tspan").attr("font-size", 22).attr("dy", 6).text("input");

const yLabel = svg.append("text")
    .attr("transform", `translate(36,538) rotate(-90)`)
    .attr("text-anchor", "middle")
    .attr("font-size", 32);
yLabel.append("tspan").attr("font-style", "italic").text("\u03b2");
yLabel.append("tspan").attr("font-size", 22).attr("dy", 6).text("recovered");
yLabel.append("tspan").attr("dy", -6).text(" \u2212 ");
yLabel.append("tspan").attr("font-style", "italic").text("\u03b2");
yLabel.append("tspan").attr("font-size", 22).attr("dy", 6).text("input");

// colorbar
const cx = d3.scaleLinear().domain([-1, 1]).range([cbar.left, cbar.right]);
const grad = svg.append("defs").append("linearGradient").attr("id", "rdbu");
grad.selectAll("stop")
    .data(d3.range(0, 1.0001, 0.05))
    .join("stop")
        .attr("offset", d => d)
        .attr("stop-color", d => d3.interpolateRdBu(d));

svg.append("rect")
    .attr("x", cbar.left).attr("y", cbar.top)
    .attr("width", cbar.right - cbar.left).attr("height", cbar.bottom - cbar.top)
    .attr("fill", "url(#rdbu)").attr("fill-opacity", 0.8);

svg.append("g")
    .attr("transform", `translate(0,${cbar.top})`)
    .call(d3.axisTop(cx).tickValues(cbarTicks).tickSize(-13).tickPadding(10).tickFormat(d => minus(d3.format(".1f")(d))))
    .call(styleAxis);

svg.append("rect")
    .attr("x", cbar.left).attr("y", cbar.top)
    .attr("width", cbar.right - cbar.left).attr("height", cbar.bottom - cbar.top)
    .attr("fill", "none").attr("stroke", "#111").attr("stroke-width", 1.3);

const cTitle = svg.append("text")
    .attr("x", 427).attr("y", 80)
    .attr("text-anchor", "middle")
    .attr("font-size", 30);
cTitle.append("tspan").attr("font-style", "italic").text("z");
cTitle.append("tspan").attr("font-size", 21).attr("dy", 6).text("recovered");
cTitle.append("tspan").attr("dy", -6).text(" \u2212 ");
cTitle.append("tspan").attr("font-style", "italic").text("z");
cTitle.append("tspan").attr("font-size", 21).attr("dy", 6).text("input");
</script>
</body>
</html>
